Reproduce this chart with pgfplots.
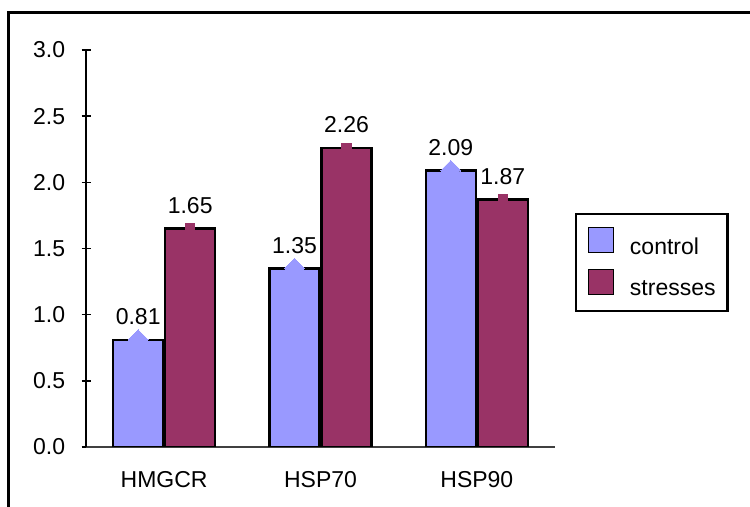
\documentclass[border=0pt]{standalone}
\usepackage{fontspec}
\setmainfont{Liberation Sans}
\usepackage{pgfplots}
\pgfplotsset{compat=1.18}
\definecolor{ctrl}{RGB}{153,153,255}
\definecolor{strs}{RGB}{153,51,102}
\newcommand\lblfont{\fontsize{11.5}{13}\selectfont}
\begin{document}
\begin{tikzpicture}
\useasboundingbox (0,0) rectangle (375pt,253.5pt);
% outer frame
\draw[line width=1.5pt] (4pt,-5pt) -- (4pt,247pt) -- (380pt,247pt);
\begin{axis}[
  at={(43pt,30pt)}, anchor=south west,
  scale only axis, width=234.5pt, height=198.5pt,
  xmin=-0.5, xmax=2.5, ymin=0, ymax=3,
  xtick={0,1,2}, xticklabels={HMGCR,HSP70,HSP90},
  ytick={0,0.5,1,1.5,2,2.5,3},
  axis x line*=bottom, axis y line*=left,
  x axis line style={line width=0.8pt, draw=black!75},
  y axis line style={line width=0.7pt, draw=black},
  major x tick style={draw=none},
  tick align=center, major tick length=4.5pt,
  ytick style={line width=0.7pt, black},
  /pgf/number format/assume math mode=true,
  tick label style={font=\lblfont},
  yticklabel style={inner sep=0pt, anchor=east, xshift=-8pt,
    /pgf/number format/fixed, /pgf/number format/fixed zerofill,
    /pgf/number format/precision=1},
  xticklabel style={inner sep=0pt, anchor=north, yshift=-10pt},
  nodes near coords style={font=\lblfont, inner sep=0pt, anchor=south,
    yshift=7.5pt, black,
    /pgf/number format/fixed, /pgf/number format/fixed zerofill,
    /pgf/number format/precision=2},
  legend style={at={(rel axis cs:1.0426,0.5894)}, anchor=north west,
    draw=black, line width=1.2pt, font=\lblfont,
    inner xsep=6pt, inner ysep=6.5pt, row sep=5.5pt,
    nodes={inner sep=0pt}},
  legend cell align=left,
]
% bars (bar width and shift in axis units)
\addplot[ybar, bar width=0.32, bar shift=-0.1663,
  fill=ctrl, draw=black, line width=1.2pt,
  legend image code/.code={\draw[fill=ctrl, draw=black, line width=0.6pt] (0pt,-2.5pt) rectangle (12.5pt,10pt); \path (20pt,0pt);}]
  coordinates {(0,0.81) (1,1.35) (2,2.09)};
\addlegendentry{control}
\addplot[ybar, bar width=0.32, bar shift=0.1663,
  fill=strs, draw=black, line width=1.2pt,
  legend image code/.code={\draw[fill=strs, draw=black, line width=0.6pt] (0pt,-2.5pt) rectangle (12.5pt,10pt); \path (20pt,0pt);}]
  coordinates {(0,1.65) (1,2.26) (2,1.87)};
\addlegendentry{stresses}
% point markers and value labels at the bar centres
\addplot[only marks, forget plot, nodes near coords, mark=diamond*, mark size=5pt,
  mark options={fill=ctrl, draw=ctrl, line width=0pt, xscale=1.33}]
  coordinates {(-0.1663,0.81) (0.8337,1.35) (1.8337,2.09)};
\addplot[only marks, forget plot, nodes near coords, mark=square*, mark size=2.4pt,
  mark options={fill=strs, draw=strs, line width=0pt}]
  coordinates {(0.1663,1.65) (1.1663,2.26) (2.1663,1.87)};
\end{axis}
\end{tikzpicture}
\end{document}
